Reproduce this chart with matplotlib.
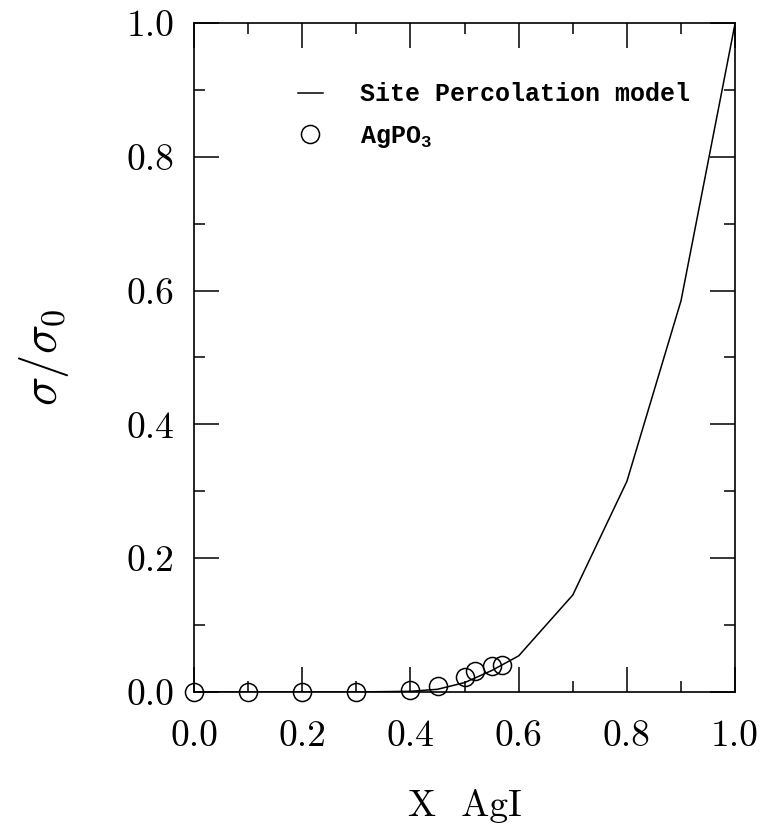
import numpy as np
import matplotlib
matplotlib.use("Agg")
import matplotlib.pyplot as plt
from matplotlib.ticker import MultipleLocator, FormatStrFormatter
from matplotlib.font_manager import FontProperties

plt.rcParams["mathtext.fontset"] = "custom"
plt.rcParams["mathtext.rm"] = "Liberation Mono:bold"
plt.rcParams["mathtext.it"] = "Liberation Mono:bold"
plt.rcParams["mathtext.bf"] = "Liberation Mono:bold"

# site percolation model curve
x_model = [0.0, 0.1, 0.2, 0.3, 0.4, 0.45, 0.5, 0.55, 0.6, 0.7, 0.8, 0.9, 1.0]
y_model = [0.0, 0.0, 0.0, 0.0, 0.001, 0.004, 0.014, 0.032, 0.054, 0.145, 0.315, 0.585, 1.0]

# AgPO3 measurements
x_meas = [0.0, 0.1, 0.2, 0.3, 0.4, 0.45, 0.5, 0.52, 0.55, 0.57]
y_meas = [0.0, 0.0, 0.0, 0.0, 0.003, 0.009, 0.023, 0.031, 0.039, 0.041]

fig = plt.figure(figsize=(7.6, 8.31), dpi=100)
ax = fig.add_axes([0.2553, 0.1673, 0.712, 0.805])

ax.plot(x_model, y_model, color="black", lw=1.1, label="Site Percolation model")
ax.plot(x_meas, y_meas, "o", ms=13, mfc="none", mec="black", mew=1.1,
        label="AgPO$_3$", clip_on=False)

ax.set_xlim(0, 1)
ax.set_ylim(0, 1)
ax.xaxis.set_major_locator(MultipleLocator(0.2))
ax.xaxis.set_minor_locator(MultipleLocator(0.1))
ax.yaxis.set_major_locator(MultipleLocator(0.2))
ax.yaxis.set_minor_locator(MultipleLocator(0.1))
ax.xaxis.set_major_formatter(FormatStrFormatter("%.1f"))
ax.yaxis.set_major_formatter(FormatStrFormatter("%.1f"))
ax.tick_params(which="both", direction="in", top=True, right=True, width=1.1)
ax.tick_params(which="major", length=18)
ax.tick_params(which="minor", length=8)
ax.tick_params(axis="x", which="major", pad=20)
ax.tick_params(axis="y", which="major", pad=14)
for lab in ax.get_xticklabels() + ax.get_yticklabels():
    lab.set_fontfamily("cmr10")
    lab.set_fontsize(27)
for s in ax.spines.values():
    s.set_linewidth(1.2)

ax.set_xlabel("X  AgI", fontfamily="cmr10", fontsize=27, labelpad=26)
ax.set_ylabel(r"$\sigma/\sigma_0$", labelpad=40,
              fontproperties=FontProperties(size=35, math_fontfamily="cm"))

leg = ax.legend(loc="upper left", bbox_to_anchor=(0.15, 0.945), frameon=False,
                handlelength=1.0, handletextpad=1.5, labelspacing=0.7,
                prop=FontProperties(family="Liberation Mono", weight="bold", size=18))

fig.savefig("out.png", dpi=100)
